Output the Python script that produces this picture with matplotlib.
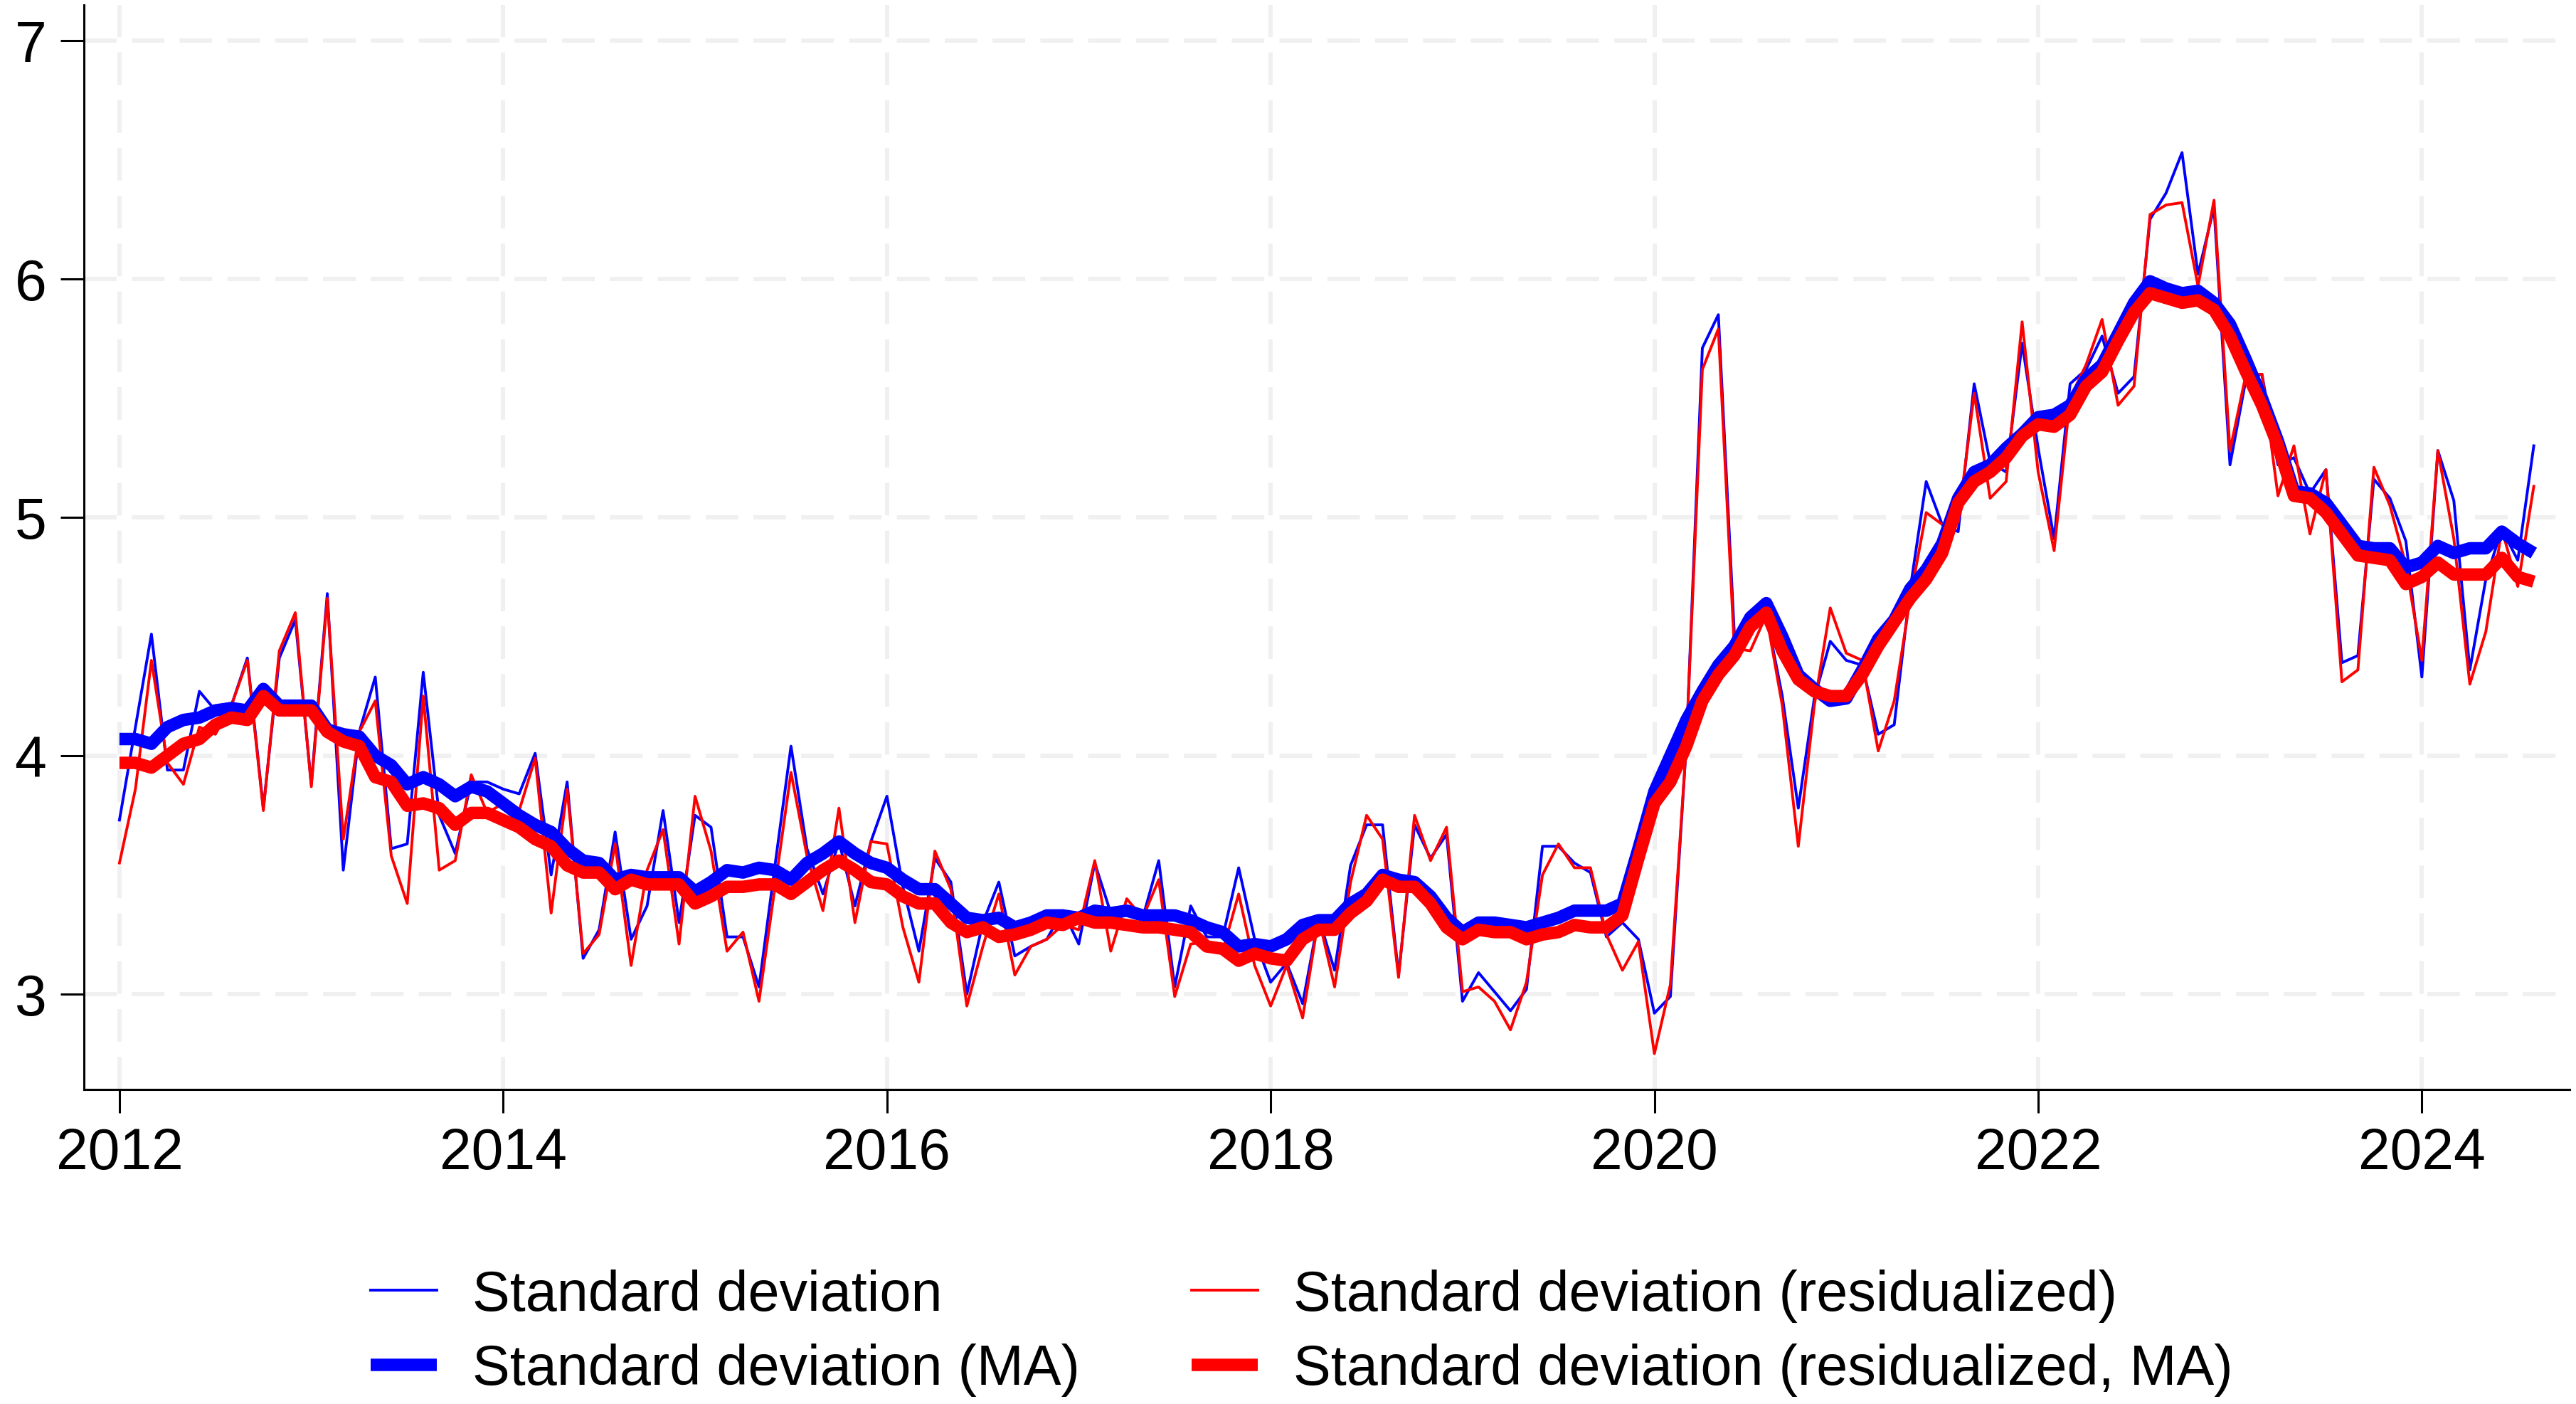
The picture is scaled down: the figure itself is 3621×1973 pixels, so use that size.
import numpy as np
import matplotlib
matplotlib.use("Agg")
import matplotlib.pyplot as plt

plt.rcParams['font.family'] = ['Liberation Sans', 'DejaVu Sans']

# -----------------------------
# Data (monthly, Jan 2012 - Aug 2024)
# -----------------------------
start_year = 2012
year_ticks = [2012, 2014, 2016, 2018, 2020, 2022, 2024]
y_ticks = [3, 4, 5, 6, 7]

sd = [
    3.73, 4.12, 4.51, 3.94, 3.94, 4.27, 4.19, 4.21, 4.41, 3.78, 4.41, 4.57,  # 2012
    3.88, 4.68, 3.52, 4.10, 4.33, 3.61, 3.63, 4.35, 3.75, 3.59, 3.89, 3.89,  # 2013
    3.86, 3.84, 4.01, 3.50, 3.89, 3.15, 3.27, 3.68, 3.23, 3.37, 3.77, 3.30,  # 2014
    3.75, 3.70, 3.24, 3.24, 3.03, 3.54, 4.04, 3.61, 3.42, 3.64, 3.37, 3.64,  # 2015
    3.83, 3.45, 3.18, 3.57, 3.47, 3.00, 3.30, 3.47, 3.16, 3.20, 3.23, 3.35,  # 2016
    3.21, 3.55, 3.34, 3.35, 3.32, 3.56, 3.03, 3.37, 3.24, 3.24, 3.53, 3.23,  # 2017
    3.05, 3.13, 2.96, 3.32, 3.10, 3.54, 3.71, 3.71, 3.08, 3.71, 3.57, 3.67,  # 2018
    2.97, 3.09, 3.01, 2.93, 3.02, 3.62, 3.62, 3.55, 3.51, 3.24, 3.30, 3.23,  # 2019
    2.92, 2.99, 4.05, 5.71, 5.85, 4.51, 4.51, 4.59, 4.25, 3.78, 4.24, 4.48,  # 2020
    4.40, 4.38, 4.09, 4.13, 4.70, 5.15, 4.97, 4.94, 5.56, 5.23, 5.19, 5.73,  # 2021
    5.29, 4.91, 5.56, 5.62, 5.76, 5.52, 5.59, 6.25, 6.36, 6.53, 6.02, 6.30,  # 2022
    5.22, 5.58, 5.60, 5.22, 5.25, 5.10, 5.20, 4.39, 4.42, 5.16, 5.08, 4.90,  # 2023
    4.33, 5.28, 5.07, 4.36, 4.74, 4.95, 4.82, 5.30,                          # 2024
]

sd_resid = [
    3.55, 3.86, 4.40, 3.97, 3.88, 4.12, 4.09, 4.21, 4.40, 3.77, 4.44, 4.60,
    3.87, 4.66, 3.65, 4.10, 4.23, 3.58, 3.38, 4.25, 3.52, 3.56, 3.92, 3.76,
    3.80, 3.77, 3.99, 3.34, 3.86, 3.17, 3.25, 3.63, 3.12, 3.52, 3.69, 3.21,
    3.83, 3.60, 3.18, 3.26, 2.97, 3.45, 3.93, 3.58, 3.35, 3.78, 3.30, 3.64,
    3.63, 3.28, 3.05, 3.60, 3.44, 2.95, 3.20, 3.42, 3.08, 3.20, 3.23, 3.29,
    3.27, 3.56, 3.18, 3.40, 3.32, 3.48, 2.99, 3.21, 3.22, 3.18, 3.42, 3.12,
    2.95, 3.12, 2.90, 3.32, 3.03, 3.47, 3.75, 3.65, 3.07, 3.75, 3.56, 3.70,
    3.01, 3.03, 2.97, 2.85, 3.05, 3.50, 3.63, 3.53, 3.53, 3.25, 3.10, 3.22,
    2.75, 3.04, 4.05, 5.62, 5.79, 4.45, 4.44, 4.59, 4.21, 3.62, 4.21, 4.62,
    4.43, 4.40, 4.02, 4.23, 4.66, 5.02, 4.97, 4.98, 5.52, 5.08, 5.15, 5.82,
    5.19, 4.86, 5.50, 5.64, 5.83, 5.47, 5.55, 6.27, 6.31, 6.32, 5.97, 6.33,
    5.28, 5.60, 5.60, 5.09, 5.30, 4.93, 5.20, 4.31, 4.36, 5.21, 5.05, 4.80,
    4.40, 5.28, 4.91, 4.30, 4.52, 4.95, 4.71, 5.13,
]

sd_ma = [
    4.07, 4.07, 4.05, 4.12, 4.15, 4.16, 4.19, 4.20, 4.19, 4.28, 4.21, 4.21,
    4.21, 4.11, 4.09, 4.08, 4.00, 3.96, 3.88, 3.91, 3.88, 3.83, 3.87, 3.85,
    3.80, 3.75, 3.71, 3.68, 3.61, 3.56, 3.55, 3.48, 3.50, 3.49, 3.49, 3.49,
    3.43, 3.47, 3.52, 3.51, 3.53, 3.52, 3.48, 3.55, 3.59, 3.64, 3.59, 3.55,
    3.53, 3.48, 3.44, 3.44, 3.38, 3.32, 3.31, 3.32, 3.28, 3.30, 3.33, 3.33,
    3.32, 3.35, 3.34, 3.35, 3.33, 3.33, 3.33, 3.31, 3.28, 3.26, 3.20, 3.21,
    3.20, 3.23, 3.29, 3.31, 3.31, 3.38, 3.42, 3.50, 3.48, 3.47, 3.41, 3.32,
    3.26, 3.30, 3.30, 3.29, 3.28, 3.30, 3.32, 3.35, 3.35, 3.35, 3.38, 3.61,
    3.85, 4.00, 4.15, 4.27, 4.38, 4.46, 4.58, 4.64, 4.50, 4.34, 4.28, 4.23,
    4.24, 4.36, 4.49, 4.57, 4.70, 4.78, 4.89, 5.08, 5.19, 5.22, 5.29, 5.35,
    5.42, 5.43, 5.47, 5.58, 5.64, 5.77, 5.90, 5.99, 5.96, 5.94, 5.95, 5.90,
    5.81, 5.66, 5.50, 5.32, 5.11, 5.10, 5.06, 4.97, 4.88, 4.87, 4.87, 4.79,
    4.81, 4.88, 4.85, 4.87, 4.87, 4.94, 4.89, 4.85,
]

sd_resid_ma = [
    3.97, 3.97, 3.95, 4.00, 4.05, 4.07, 4.13, 4.16, 4.15, 4.25, 4.19, 4.19,
    4.19, 4.10, 4.06, 4.04, 3.91, 3.89, 3.79, 3.80, 3.78, 3.71, 3.76, 3.76,
    3.73, 3.70, 3.65, 3.62, 3.54, 3.51, 3.51, 3.44, 3.48, 3.46, 3.46, 3.46,
    3.38, 3.41, 3.45, 3.45, 3.46, 3.46, 3.42, 3.47, 3.52, 3.56, 3.52, 3.47,
    3.46, 3.41, 3.38, 3.38, 3.30, 3.26, 3.28, 3.24, 3.25, 3.27, 3.30, 3.29,
    3.32, 3.30, 3.30, 3.29, 3.28, 3.28, 3.27, 3.26, 3.20, 3.19, 3.14, 3.17,
    3.15, 3.14, 3.23, 3.27, 3.27, 3.34, 3.39, 3.48, 3.45, 3.45, 3.38, 3.28,
    3.23, 3.27, 3.26, 3.26, 3.23, 3.25, 3.26, 3.29, 3.28, 3.28, 3.33, 3.57,
    3.80, 3.89, 4.04, 4.23, 4.34, 4.42, 4.54, 4.60, 4.44, 4.32, 4.27, 4.25,
    4.25, 4.34, 4.46, 4.56, 4.66, 4.74, 4.85, 5.06, 5.15, 5.19, 5.25, 5.34,
    5.39, 5.38, 5.43, 5.55, 5.61, 5.74, 5.86, 5.94, 5.92, 5.90, 5.91, 5.87,
    5.76, 5.61, 5.47, 5.30, 5.09, 5.08, 5.02, 4.93, 4.84, 4.83, 4.82, 4.72,
    4.75, 4.81, 4.76, 4.76, 4.76, 4.83, 4.75, 4.73,
]

labels = [
    "Standard deviation",
    "Standard deviation (MA)",
    "Standard deviation (residualized)",
    "Standard deviation (residualized, MA)",
]

# monthly positions as decimal years
t = start_year + np.arange(len(sd)) / 12

# -----------------------------
# Figure
# -----------------------------
W, H, DPI = 3621, 1974, 200
fig = plt.figure(figsize=(W / DPI, H / DPI), dpi=DPI)
ax = fig.add_axes([118 / W, 1 - 1532 / H, (3612 - 118) / W, (1532 - 8) / H])

thin = 1.4
thick = 6.3
l1, = ax.plot(t, sd, color="#0000ff", lw=thin, zorder=3)
l3, = ax.plot(t, sd_resid, color="#ff0000", lw=thin, zorder=4)
l2, = ax.plot(t, sd_ma, color="#0000ff", lw=thick, zorder=5,
              solid_joinstyle="round", solid_capstyle="butt")
l4, = ax.plot(t, sd_resid_ma, color="#ff0000", lw=thick, zorder=6,
              solid_joinstyle="round", solid_capstyle="butt")

ax.set_xlim(2011.815, 2024.770)
ax.set_ylim(2.6, 7.149)
ax.set_xticks(year_ticks)
ax.set_xticklabels([str(y) for y in year_ticks])
ax.set_yticks(y_ticks)
ax.set_yticklabels([str(v) for v in y_ticks])

ax.set_axisbelow(True)
ax.grid(True, color="#f0f0f0", linewidth=2.2, linestyle=(0, (7.5, 3.5)))

for s in ["top", "right"]:
    ax.spines[s].set_visible(False)
for s in ["left", "bottom"]:
    ax.spines[s].set_linewidth(1.1)
ax.tick_params(axis="both", length=11.9, width=1.1, pad=7, labelsize=29,
               direction="out", colors="black")

fig.legend([l1, l2, l3, l4], labels, ncol=2, loc="upper left",
           bbox_to_anchor=(521 / W, 1 - 1784 / H), frameon=False,
           fontsize=28.5, handlelength=1.18, handletextpad=0.63,
           columnspacing=1.98, labelspacing=0.37, borderpad=0,
           borderaxespad=0)

fig.savefig("out.png", dpi=DPI)
